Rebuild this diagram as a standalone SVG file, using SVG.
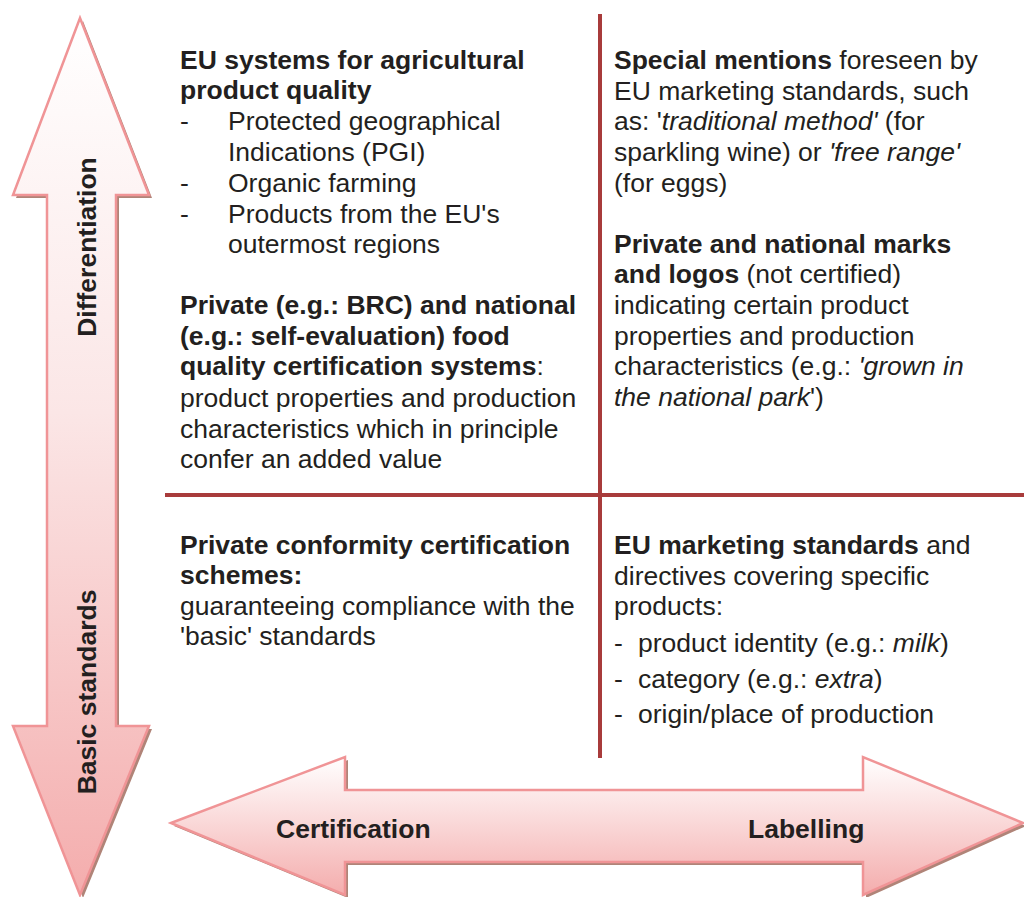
<svg xmlns="http://www.w3.org/2000/svg" width="1024" height="897" viewBox="0 0 1024 897">
<style>
text{font-family:"Liberation Sans",Arial,sans-serif;font-size:26.5px;fill:#231f20}
.b{font-weight:bold}
.i{font-style:italic}
.arrow{stroke:#f09496;stroke-width:2.5;stroke-linejoin:miter}
.shadow{fill:#b08478}
.div{stroke:#a83b3b;stroke-width:4}
</style>
<defs>
<linearGradient id="gv" x1="0" y1="0" x2="0" y2="1">
<stop offset="0" stop-color="#ffffff"/>
<stop offset="0.45" stop-color="#fbe6e6"/>
<stop offset="1" stop-color="#f4adad"/>
</linearGradient>
<linearGradient id="gh" x1="0" y1="0" x2="0" y2="1">
<stop offset="0" stop-color="#ffffff"/>
<stop offset="1" stop-color="#f4adad"/>
</linearGradient>
</defs>
<g id="arrow-vertical">
<path class="shadow" d="M83,21 L152,198 L119,198 L119,729 L152,729 L83,898 L16,729 L50,729 L50,198 L16,198 Z"/>
<path class="arrow" fill="url(#gv)" d="M80,18 L149,195 L116,195 L116,726 L149,726 L80,895 L13,726 L47,726 L47,195 L13,195 Z"/>
<text class="b" transform="translate(96,247) rotate(-90)" text-anchor="middle">Differentiation</text>
<text class="b" transform="translate(96,692) rotate(-90)" text-anchor="middle">Basic standards</text>
</g>
<g id="arrow-horizontal">
<path class="shadow" d="M174,826 L348,760 L348,793 L866,793 L866,760 L1026,826 L866,898 L866,865 L348,865 L348,898 Z"/>
<path class="arrow" fill="url(#gh)" d="M171,823 L345,757 L345,790 L863,790 L863,757 L1023,823 L863,895 L863,862 L345,862 L345,895 Z"/>
<text class="b" x="276" y="838">Certification</text>
<text class="b" x="748" y="838">Labelling</text>
</g>
<g id="connectors">
<line class="div" x1="600" y1="14" x2="600" y2="758"/>
<line class="div" x1="165" y1="495" x2="1024" y2="495"/>
</g>
<g id="q-top-left">
<text class="b" x="180" y="69">EU systems for agricultural</text>
<text class="b" x="180" y="99">product quality</text>
<text x="180" y="130">-</text><text x="228" y="130">Protected geographical</text>
<text x="228" y="161">Indications (PGI)</text>
<text x="180" y="192">-</text><text x="228" y="192">Organic farming</text>
<text x="180" y="223">-</text><text x="228" y="223">Products from the EU's</text>
<text x="228" y="253">outermost regions</text>
<text class="b" x="180" y="314">Private (e.g.: BRC) and national</text>
<text class="b" x="180" y="345">(e.g.: self-evaluation) food</text>
<text x="180" y="375"><tspan class="b">quality certification systems</tspan>:</text>
<text x="180" y="407">product properties and production</text>
<text x="180" y="438">characteristics which in principle</text>
<text x="180" y="468">confer an added value</text>
</g>
<g id="q-top-right">
<text x="614" y="69"><tspan class="b">Special mentions</tspan> foreseen by</text>
<text x="614" y="100">EU marketing standards, such</text>
<text x="614" y="130">as: '<tspan class="i">traditional method'</tspan> (for</text>
<text x="614" y="161">sparkling wine) or <tspan class="i">'free range'</tspan></text>
<text x="614" y="192">(for eggs)</text>
<text class="b" x="614" y="253">Private and national marks</text>
<text x="614" y="283"><tspan class="b">and logos</tspan> (not certified)</text>
<text x="614" y="314">indicating certain product</text>
<text x="614" y="345">properties and production</text>
<text x="614" y="375">characteristics (e.g.: <tspan class="i">'grown in</tspan></text>
<text x="614" y="406"><tspan class="i">the national park</tspan>')</text>
</g>
<g id="q-bottom-left">
<text class="b" x="180" y="554">Private conformity certification</text>
<text class="b" x="180" y="584">schemes:</text>
<text x="180" y="615">guaranteeing compliance with the</text>
<text x="180" y="645">'basic' standards</text>
</g>
<g id="q-bottom-right">
<text x="614" y="554"><tspan class="b">EU marketing standards</tspan> and</text>
<text x="614" y="585">directives covering specific</text>
<text x="614" y="615">products:</text>
<text x="614" y="652">-</text><text x="638" y="652">product identity (e.g.: <tspan class="i">milk</tspan>)</text>
<text x="614" y="688">-</text><text x="638" y="688">category (e.g.: <tspan class="i">extra</tspan>)</text>
<text x="614" y="723">-</text><text x="638" y="723">origin/place of production</text>
</g>
</svg>
